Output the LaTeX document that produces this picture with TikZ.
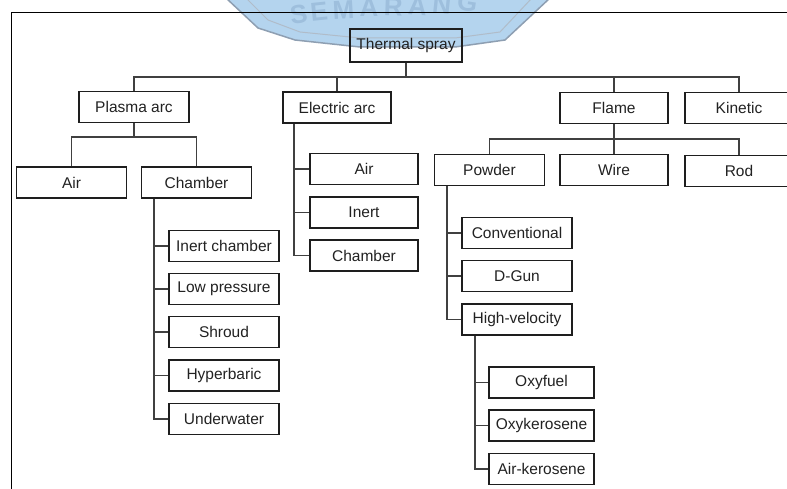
\documentclass[tikz,border=0pt]{standalone}
\usepackage{fontspec}
\setmainfont{Liberation Sans}
\definecolor{boxline}{HTML}{1E1E1E}
\definecolor{txt}{HTML}{222222}
\definecolor{wmfill}{HTML}{B4D4EE}
\definecolor{wmline}{HTML}{8E9FB2}
\definecolor{wmtext}{HTML}{9EBFDD}
\begin{document}
\begin{tikzpicture}[x=1pt,y=-1pt,
  box/.style={draw=boxline,line width=1.8pt,minimum height=31pt,inner sep=0pt,
    font=\fontsize{15.5}{16}\selectfont,text=txt},
  w112/.style={minimum width=112pt,minimum height=33pt},
  w110/.style={minimum width=110pt},
  w108/.style={minimum width=108pt},
  w105/.style={minimum width=105pt},
  conn/.style={draw=boxline!85,line width=1.4pt},
  wmletter/.style={text=wmtext,font=\fontsize{26}{26}\selectfont\bfseries,inner sep=0pt,anchor=base}]
\useasboundingbox (0,0) rectangle (787,489);
\clip (0,0) rectangle (787,489);
\fill[white] (0,0) rectangle (787,489);
% watermark
\fill[wmfill,draw=wmline,line width=1.5pt]
  (226,-2) -- (258,28) -- (295,40) -- (360,47) -- (455,47) -- (505,40) -- (550,-2) -- cycle;
\draw[wmline!70,line width=1pt] (246,-2) -- (268,20) -- (300,32) -- (360,38) -- (455,38) -- (500,32) -- (532,-2);
\foreach \l/\x/\y/\r in {S/300/23/8,E/320/21/6,M/344/19/3,A/369/17/0,R/393/16/-2,A/417/15/-4,N/441/13/-6,G/466/11/-9}
  \node[wmletter,rotate=\r] at (\x,\y) {\l};
% frame
\draw[black,line width=1.4pt] (11.5,490) -- (11.5,12.5) -- (788,12.5);
% nodes
\node[box,w112] (ts) at (406,45.5) {Thermal spray};
\node[box,w110] (plasma) at (134,107) {Plasma arc};
\node[box,w108] (earc) at (337,107.5) {Electric arc};
\node[box,w108] (flame) at (614,108) {Flame};
\node[box,w108] (kinetic) at (739,108) {Kinetic};
\node[box,w110] (pair) at (71.5,182.5) {Air};
\node[box,w110] (pch) at (196.5,182.5) {Chamber};
\node[box,w108] (eair) at (364,169) {Air};
\node[box,w108] (einert) at (364,212.5) {Inert};
\node[box,w108] (ech) at (364,255.5) {Chamber};
\node[box,w110] (powder) at (489.5,170) {Powder};
\node[box,w108] (wire) at (614,170) {Wire};
\node[box,w108] (rod) at (739,171) {Rod};
\node[box,w110] (inertch) at (224,246) {Inert chamber};
\node[box,w110] (lowp) at (224,289) {Low pressure};
\node[box,w110] (shroud) at (224,332) {Shroud};
\node[box,w110] (hyper) at (224,375.5) {Hyperbaric};
\node[box,w110] (under) at (224,419) {Underwater};
\node[box,w110] (conv) at (517,233) {Conventional};
\node[box,w110] (dgun) at (517,276) {D-Gun};
\node[box,w110] (hv) at (517,319.5) {High-velocity};
\node[box,w105] (oxyf) at (541.5,382.5) {Oxyfuel};
\node[box,w105] (oxyk) at (541.5,425.5) {Oxykerosene};
\node[box,w105] (airk) at (541.5,469) {Air-kerosene};
% helper coordinates
\coordinate (bus) at (0,77);
\coordinate (pbus) at (0,137);
\coordinate (fbus) at (0,139);
\coordinate (ex) at (294,0);
\coordinate (px) at (154,0);
\coordinate (pwx) at (447,0);
\coordinate (hx) at (475,0);
% connectors
\draw[conn] (ts.south) -- (ts.south |- bus);
\draw[conn] (plasma.north) |- (kinetic.north |- bus) -- (kinetic.north);
\draw[conn] (earc.north) -- (earc.north |- bus);
\draw[conn] (flame.north) -- (flame.north |- bus);
\draw[conn] (plasma.south) -- (plasma.south |- pbus);
\draw[conn] (pair.north) |- (pch.north |- pbus) -- (pch.north);
\draw[conn] (earc.south -| ex) |- (ech.west);
\draw[conn] (eair.west) -- (eair.west -| ex);
\draw[conn] (einert.west) -- (einert.west -| ex);
\draw[conn] (flame.south) -- (flame.south |- fbus);
\draw[conn] (powder.north) |- (rod.north |- fbus) -- (rod.north);
\draw[conn] (wire.north) -- (wire.north |- fbus);
\draw[conn] (pch.south -| px) |- (under.west);
\foreach \n in {inertch,lowp,shroud,hyper}
  \draw[conn] (\n.west) -- (\n.west -| px);
\draw[conn] (powder.south -| pwx) |- (hv.west);
\foreach \n in {conv,dgun}
  \draw[conn] (\n.west) -- (\n.west -| pwx);
\draw[conn] (hv.south -| hx) |- (airk.west);
\foreach \n in {oxyf,oxyk}
  \draw[conn] (\n.west) -- (\n.west -| hx);
\end{tikzpicture}
\end{document}
